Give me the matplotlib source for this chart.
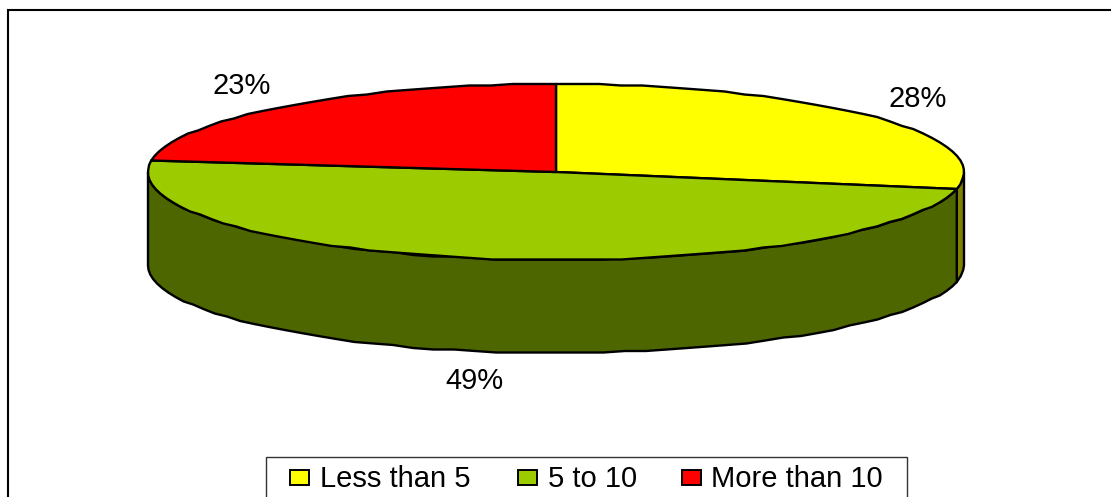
import numpy as np
import matplotlib.pyplot as plt
from matplotlib.patches import Polygon, Rectangle

plt.rcParams['font.family'] = ['Liberation Sans', 'DejaVu Sans']

categories = ['Less than 5', '5 to 10', 'More than 10']
shares = [28, 49, 23]
top_colors = ['#ffff00', '#9ccc00', '#ff0000']
side_colors = ['#808000', '#4d6600', '#800000']

W, H = 1111, 497
cx, cy = 556, 172
rx, ry = 408, 88
depth = 93
edge = dict(edgecolor='black', linewidth=1.7, joinstyle='round')


def rim(t0, t1, dy=0):
    # t runs clockwise from the top of the ellipse, in degrees.
    # Snapping y to a small grid gives the slightly stepped outline.
    n = max(int(abs(t1 - t0) / 3), 1)
    t = np.radians(np.linspace(t0, t1, n + 1))
    x = cx + rx * np.sin(t)
    y = np.round((cy - ry * np.cos(t)) / 1.5) * 1.5 + dy
    return np.column_stack([x, y])


fig = plt.figure(figsize=(W / 100, H / 100), dpi=100)
ax = fig.add_axes([0, 0, 1, 1])
ax.set_xlim(0, W)
ax.set_ylim(H, 0)
ax.axis('off')

# chart frame, only the left and top sides fall inside the image
ax.plot([8, 8, W + 5], [H + 5, 10, 10], color='black', lw=1.5, solid_joinstyle='miter')

ends = np.cumsum(shares) / sum(shares) * 360
starts = np.concatenate([[0], ends[:-1]])

# side wall: only the front half of the rim (90 to 270) is visible
for a, b, side in zip(starts, ends, side_colors):
    lo, hi = max(a, 90), min(b, 270)
    if lo >= hi:
        continue
    upper = rim(lo, hi)
    lower = rim(lo, hi, depth)[::-1]
    ax.add_patch(Polygon(np.vstack([upper, lower]), closed=True, facecolor=side, **edge))

# top face
for a, b, col in zip(starts, ends, top_colors):
    pts = np.vstack([[[cx, cy]], rim(a, b)])
    ax.add_patch(Polygon(pts, closed=True, facecolor=col, **edge))

# percentage labels
label_pos = [(918, 99), (474, 381), (242, 86)]
for val, (x, y) in zip(shares, label_pos):
    ax.text(x, y, f'{val}%', ha='center', va='center', fontsize=21, color='black')

# legend box
ax.add_patch(Rectangle((265.5, 456.5), 641, 50, facecolor='white', edgecolor='#333333', lw=1))
swatch_x = [290, 518, 682]
text_x = [320, 548, 711]
for x, tx, name, col in zip(swatch_x, text_x, categories, top_colors):
    ax.add_patch(Rectangle((x, 470), 19, 15, facecolor=col, edgecolor='black', lw=1.4))
    ax.text(tx, 479, name, ha='left', va='center', fontsize=21, color='black')

fig.savefig('out.png', dpi=100)
